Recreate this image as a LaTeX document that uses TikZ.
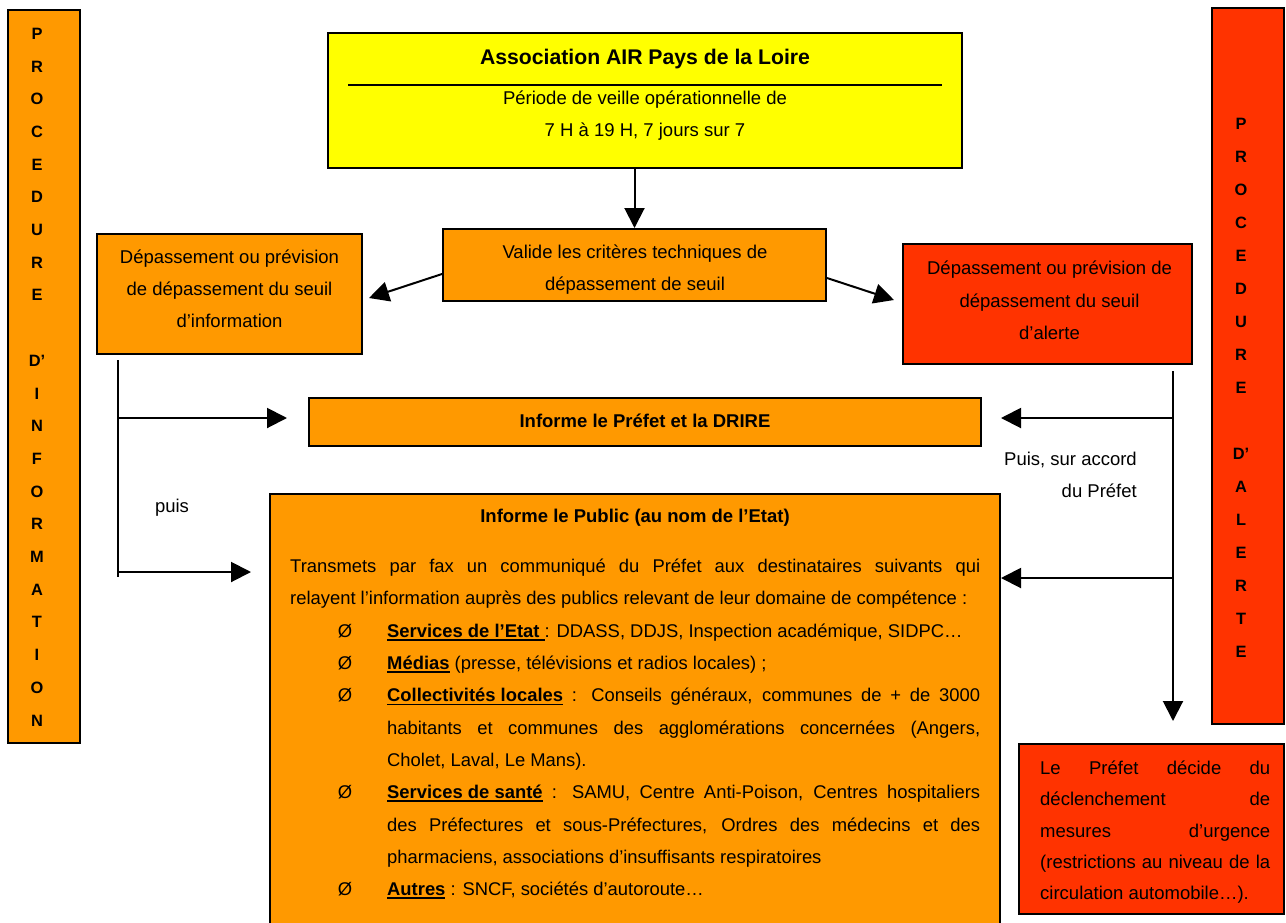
\documentclass[tikz,border=0pt]{standalone}
\usepackage{fontspec}
\setmainfont{Liberation Sans}
\usetikzlibrary{arrows.meta,calc}
\definecolor{orangeF}{HTML}{FF9900}
\definecolor{redF}{HTML}{FF3300}
\definecolor{yellowF}{HTML}{FFFF00}
\newcommand\myul[1]{\leavevmode\setbox0\hbox{#1}\rlap{\rule[-3.5pt]{\wd0}{1.8pt}}\box0}
\newcommand\bul{\noindent\llap{Ø\hspace{35pt}}}
\tolerance=10000
\hbadness=10000
\emergencystretch=20pt
\tikzset{
  boxo/.style={draw, line width=2pt, fill=orangeF, inner sep=0pt},
  boxr/.style={boxo, fill=redF},
  boxy/.style={boxo, fill=yellowF},
  txt/.style={inner sep=0pt, align=center, anchor=base, font=\fontsize{18.5}{32}\selectfont},
  letters/.style={inner sep=0pt, align=center, anchor=base, font=\bfseries\fontsize{16.4}{32.7}\selectfont},
  arr/.style={line width=2pt, -{Triangle[length=20pt,width=20pt]}},
  ln/.style={line width=2pt},
}
\begin{document}
\begin{tikzpicture}[x=1pt,y=-1pt]
\clip (0,0) rectangle (1286,922);
\fill[white] (0,0) rectangle (1286,922);
% side columns (base anchor = last line)
\node[boxo, minimum width=72pt, minimum height=733pt] (lcol) at (44,376.5) {};
\node[letters] (lletters) at (37,726) {P\\R\\O\\C\\E\\D\\U\\R\\E\\\mbox{}\\D’\\I\\N\\F\\O\\R\\M\\A\\T\\I\\O\\N};
\node[boxr, minimum width=72pt, minimum height=716pt] (rcol) at (1248,366) {};
\node[letters, font=\bfseries\fontsize{16.4}{33}\selectfont] (rletters) at (1241,657) {P\\R\\O\\C\\E\\D\\U\\R\\E\\\mbox{}\\D’\\A\\L\\E\\R\\T\\E};
% top box
\node[boxy, minimum width=634pt, minimum height=135pt] (air) at (645,100.5) {};
\node[txt, font=\bfseries\fontsize{21.2}{24}\selectfont] (airtitle) at (645,64) {Association AIR Pays de la Loire};
\coordinate (sepl) at (348,85);
\coordinate (sepr) at (942,85);
\draw[ln] (sepl) -- (sepr);
\node[txt, font=\fontsize{18.5}{31.5}\selectfont] (airtext) at (645,136.3) {Période de veille opérationnelle de\\7 H à 19 H, 7 jours sur 7};
% second row
\node[boxo, minimum width=383pt, minimum height=72pt] (valide) at (634.5,265) {};
\node[txt] (validetext) at (635,290.6) {Valide les critères techniques de\\dépassement de seuil};
\node[boxo, minimum width=265pt, minimum height=120pt] (info) at (229.5,294) {};
\node[txt] (infotext) at (229.5,327.6) {Dépassement ou prévision\\de dépassement du seuil\\d’information};
\node[boxr, minimum width=289pt, minimum height=120pt] (alert) at (1047.5,304) {};
\node[txt, font=\fontsize{18.5}{32.5}\selectfont] (alerttext) at (1049.5,339.6) {Dépassement ou prévision de\\dépassement du seuil\\d’alerte};
% prefet
\node[boxo, minimum width=672pt, minimum height=48pt] (prefet) at (645,422) {};
\node[txt, font=\bfseries\fontsize{18.5}{32}\selectfont] (prefettext) at (645,427.6) {Informe le Préfet et la DRIRE};
% public
\node[boxo, minimum width=730pt, minimum height=446pt] (public) at (635,717) {};
\node[txt, font=\bfseries\fontsize{18.5}{32}\selectfont] (publictitle) at (635,522.6) {Informe le Public (au nom de l’Etat)};
\node[anchor=base west, inner sep=0pt, text width=690pt, align=justify, font=\fontsize{18.4}{32.3}\selectfont] (publictext) at (290,572.6) {%
\tolerance=10000 \emergencystretch=20pt \hyphenpenalty=10000 \exhyphenpenalty=10000
Transmets par fax un communiqué du Préfet aux destinataires suivants qui\linebreak
relayent l’information auprès des publics relevant de leur domaine de compétence~:\par
\leftskip=97pt
\bul\textbf{\myul{Services de l’Etat }}: DDASS, DDJS, Inspection académique, SIDPC…\par
\bul\textbf{\myul{Médias}} (presse, télévisions et radios locales)~;\par
\bul\textbf{\myul{Collectivités locales}} : Conseils généraux, communes de + de 3000\linebreak
habitants et communes des agglomérations concernées (Angers,\linebreak
Cholet, Laval, Le Mans).\par
\bul\textbf{\myul{Services de santé}} : SAMU, Centre Anti-Poison, Centres hospitaliers\linebreak
des Préfectures et sous-Préfectures, Ordres des médecins et des\linebreak
pharmaciens, associations d’insuffisants respiratoires\par
\bul\textbf{\myul{Autres}} : SNCF, sociétés d’autoroute…\par};
% mesures
\node[boxr, minimum width=265pt, minimum height=170pt] (mesures) at (1151.5,829) {};
\node[anchor=base west, inner sep=0pt, text width=230pt, align=justify, font=\fontsize{18.5}{31.25}\selectfont] (mestext) at (1040,774.6) {%
\tolerance=10000 \hyphenpenalty=10000
Le Préfet décide du\linebreak
déclenchement de\linebreak
mesures d’urgence\linebreak
(restrictions au niveau de la\linebreak
circulation automobile…).\par};
% labels
\node[txt] (puis) at (172,512.6) {puis};
\node[txt, align=right, anchor=base east] (accord) at (1137,497.6) {Puis, sur accord\\du Préfet};
% connectors
\draw[arr] (valide.north |- air.south) -- (valide.north);
\draw[arr] ([yshift=-9pt]valide.west) -- ([xshift=6pt,yshift=-4pt]info.east);
\draw[arr] ([yshift=-13pt]valide.east) -- ([xshift=-8pt,yshift=4pt]alert.west);
% left spine
\coordinate (ltop) at (118,360);
\coordinate (lbot) at (118,577);
\coordinate (l1) at (118,418);
\coordinate (l2) at (118,572);
\draw[ln] (ltop) -- (lbot);
\draw[arr] (l1) -- ($(l1 -| prefet.west)+(-21,0)$);
\draw[arr] (l2) -- ($(l2 -| public.west)+(-18,0)$);
% right spine
\coordinate (rtop) at (1173,371);
\coordinate (r1) at (1173,418);
\coordinate (r2) at (1173,578);
\draw[arr] (rtop) -- ($(mesures.north -| rtop)+(0,-22)$);
\draw[arr] (r1) -- ($(r1 -| prefet.east)+(19,0)$);
\draw[arr] (r2) -- (r2 -| public.east);
\end{tikzpicture}
\end{document}
